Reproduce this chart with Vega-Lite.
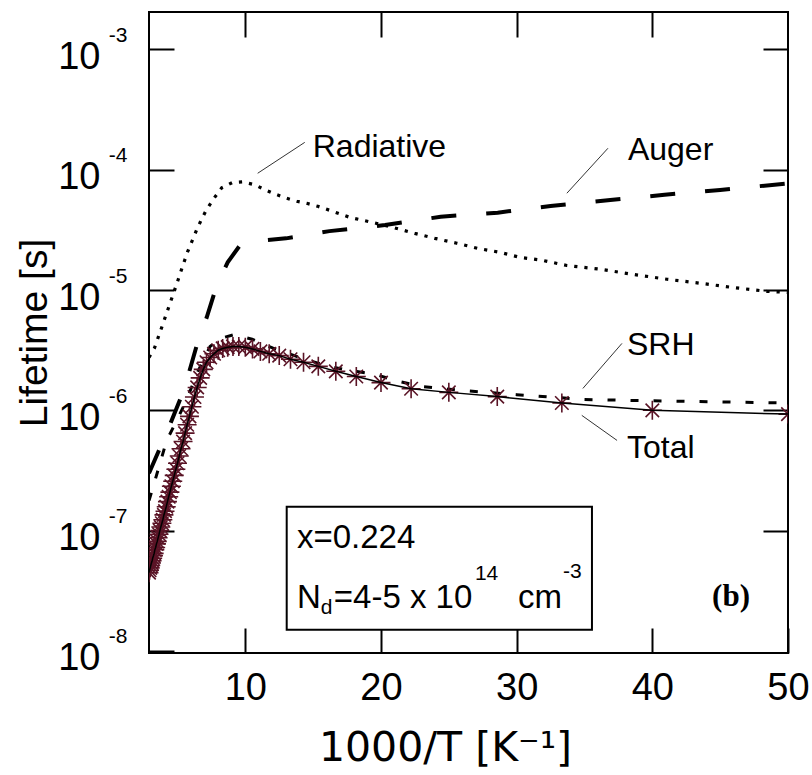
{
  "$schema": "https://vega.github.io/schema/vega-lite/v6.json",
  "width": 639,
  "height": 641,
  "autosize": {"type": "none"},
  "padding": {"left": 149, "top": 12, "right": 24, "bottom": 122},
  "background": "white",
  "config": {
    "view": {"stroke": "black", "strokeWidth": 2},
    "font": "Liberation Sans",
    "axis": {"grid": false, "domain": false, "tickColor": "black", "tickWidth": 2, "tickSize": -25, "labelColor": "black", "labelFont": "Liberation Sans", "titleFont": "Liberation Sans", "titleColor": "black", "titleFontWeight": "normal", "labelOverlap": false, "labelFlush": false}
  },
  "datasets": {
    "curves": [
      {"series": "Radiative", "x": 2.9, "y": 2.75e-6},
      {"series": "Radiative", "x": 3.31, "y": 3.31e-6},
      {"series": "Radiative", "x": 3.9, "y": 5.13e-6},
      {"series": "Radiative", "x": 4.42, "y": 7.59e-6},
      {"series": "Radiative", "x": 4.94, "y": 1.12e-5},
      {"series": "Radiative", "x": 5.38, "y": 1.58e-5},
      {"series": "Radiative", "x": 5.75, "y": 2.09e-5},
      {"series": "Radiative", "x": 6.12, "y": 2.63e-5},
      {"series": "Radiative", "x": 6.41, "y": 3.16e-5},
      {"series": "Radiative", "x": 6.78, "y": 3.89e-5},
      {"series": "Radiative", "x": 7.15, "y": 4.68e-5},
      {"series": "Radiative", "x": 7.74, "y": 5.89e-5},
      {"series": "Radiative", "x": 8.26, "y": 7.08e-5},
      {"series": "Radiative", "x": 9.07, "y": 7.85e-5},
      {"series": "Radiative", "x": 9.8, "y": 7.94e-5},
      {"series": "Radiative", "x": 10.69, "y": 7.5e-5},
      {"series": "Radiative", "x": 11.43, "y": 6.84e-5},
      {"series": "Radiative", "x": 12.16, "y": 6.31e-5},
      {"series": "Radiative", "x": 13.05, "y": 5.79e-5},
      {"series": "Radiative", "x": 13.79, "y": 5.47e-5},
      {"series": "Radiative", "x": 14.53, "y": 5.26e-5},
      {"series": "Radiative", "x": 15.34, "y": 4.97e-5},
      {"series": "Radiative", "x": 16.22, "y": 4.6e-5},
      {"series": "Radiative", "x": 17.7, "y": 4.02e-5},
      {"series": "Radiative", "x": 19.32, "y": 3.66e-5},
      {"series": "Radiative", "x": 20.87, "y": 3.32e-5},
      {"series": "Radiative", "x": 22.49, "y": 2.96e-5},
      {"series": "Radiative", "x": 23.97, "y": 2.69e-5},
      {"series": "Radiative", "x": 25.59, "y": 2.45e-5},
      {"series": "Radiative", "x": 27.14, "y": 2.22e-5},
      {"series": "Radiative", "x": 28.76, "y": 2.06e-5},
      {"series": "Radiative", "x": 30.24, "y": 1.87e-5},
      {"series": "Radiative", "x": 31.86, "y": 1.77e-5},
      {"series": "Radiative", "x": 33.7, "y": 1.6e-5},
      {"series": "Radiative", "x": 36.14, "y": 1.49e-5},
      {"series": "Radiative", "x": 38.57, "y": 1.35e-5},
      {"series": "Radiative", "x": 41.08, "y": 1.23e-5},
      {"series": "Radiative", "x": 43.51, "y": 1.14e-5},
      {"series": "Radiative", "x": 45.95, "y": 1.05e-5},
      {"series": "Radiative", "x": 48.45, "y": 9.75e-6},
      {"series": "Radiative", "x": 50, "y": 9.57e-6},
      {"series": "Auger", "x": 2.9, "y": 3.0e-7},
      {"series": "Auger", "x": 4.2, "y": 6.5e-7},
      {"series": "Auger", "x": 5.5, "y": 1.5e-6},
      {"series": "Auger", "x": 6.63, "y": 4.2e-6},
      {"series": "Auger", "x": 7.15, "y": 5.9e-6},
      {"series": "Auger", "x": 7.9, "y": 1.1e-5},
      {"series": "Auger", "x": 8.7, "y": 1.7e-5},
      {"series": "Auger", "x": 9.6, "y": 2.35e-5},
      {"series": "Auger", "x": 11.0, "y": 2.57e-5},
      {"series": "Auger", "x": 13.0, "y": 2.69e-5},
      {"series": "Auger", "x": 16.2, "y": 3.09e-5},
      {"series": "Auger", "x": 20.3, "y": 3.47e-5},
      {"series": "Auger", "x": 24.4, "y": 4.07e-5},
      {"series": "Auger", "x": 28.6, "y": 4.4e-5},
      {"series": "Auger", "x": 32.5, "y": 5.0e-5},
      {"series": "Auger", "x": 36.9, "y": 5.6e-5},
      {"series": "Auger", "x": 40.9, "y": 6.2e-5},
      {"series": "Auger", "x": 45.0, "y": 6.8e-5},
      {"series": "Auger", "x": 50.0, "y": 7.7e-5},
      {"series": "SRH", "x": 2.9, "y": 1.78e-7},
      {"series": "SRH", "x": 3.2, "y": 2.3e-7},
      {"series": "SRH", "x": 4.2, "y": 5.6e-7},
      {"series": "SRH", "x": 5.0, "y": 8.5e-7},
      {"series": "SRH", "x": 5.6, "y": 1.17e-6},
      {"series": "SRH", "x": 6.5, "y": 2.1e-6},
      {"series": "SRH", "x": 7.4, "y": 3.4e-6},
      {"series": "SRH", "x": 8.3, "y": 4.0e-6},
      {"series": "SRH", "x": 9.2, "y": 4.27e-6},
      {"series": "SRH", "x": 10.5, "y": 3.9e-6},
      {"series": "SRH", "x": 12.0, "y": 3.3e-6},
      {"series": "SRH", "x": 14.0, "y": 2.75e-6},
      {"series": "SRH", "x": 16.0, "y": 2.34e-6},
      {"series": "SRH", "x": 17.7, "y": 2.14e-6},
      {"series": "SRH", "x": 19.5, "y": 2.0e-6},
      {"series": "SRH", "x": 21.3, "y": 1.74e-6},
      {"series": "SRH", "x": 23.0, "y": 1.58e-6},
      {"series": "SRH", "x": 26.4, "y": 1.45e-6},
      {"series": "SRH", "x": 30.0, "y": 1.35e-6},
      {"series": "SRH", "x": 35.0, "y": 1.23e-6},
      {"series": "SRH", "x": 40.0, "y": 1.2e-6},
      {"series": "SRH", "x": 50.0, "y": 1.15e-6}
    ],
    "total": [
      {"x": 2.9, "y": 4.47e-8}, {"x": 2.94, "y": 4.68e-8}, {"x": 2.99, "y": 4.9e-8}, {"x": 3.03, "y": 5.13e-8},
      {"x": 3.08, "y": 5.37e-8}, {"x": 3.13, "y": 5.62e-8}, {"x": 3.17, "y": 5.89e-8}, {"x": 3.23, "y": 6.17e-8},
      {"x": 3.28, "y": 6.46e-8}, {"x": 3.33, "y": 6.92e-8}, {"x": 3.39, "y": 7.24e-8}, {"x": 3.45, "y": 7.76e-8},
      {"x": 3.51, "y": 8.13e-8}, {"x": 3.57, "y": 8.71e-8}, {"x": 3.64, "y": 9.33e-8}, {"x": 3.7, "y": 1.0e-7},
      {"x": 3.77, "y": 1.07e-7}, {"x": 3.85, "y": 1.15e-7}, {"x": 3.92, "y": 1.23e-7}, {"x": 4.0, "y": 1.35e-7},
      {"x": 4.08, "y": 1.45e-7}, {"x": 4.17, "y": 1.58e-7}, {"x": 4.26, "y": 1.74e-7}, {"x": 4.35, "y": 1.91e-7},
      {"x": 4.44, "y": 2.09e-7}, {"x": 4.55, "y": 2.34e-7}, {"x": 4.65, "y": 2.57e-7}, {"x": 4.76, "y": 2.88e-7},
      {"x": 4.88, "y": 3.24e-7}, {"x": 5.0, "y": 3.63e-7}, {"x": 5.13, "y": 4.17e-7}, {"x": 5.26, "y": 4.79e-7},
      {"x": 5.41, "y": 5.5e-7}, {"x": 5.56, "y": 6.46e-7}, {"x": 5.71, "y": 7.59e-7}, {"x": 5.88, "y": 8.91e-7},
      {"x": 6.06, "y": 1.07e-6}, {"x": 6.25, "y": 1.29e-6}, {"x": 6.45, "y": 1.55e-6}, {"x": 6.67, "y": 1.86e-6},
      {"x": 6.9, "y": 2.19e-6}, {"x": 7.14, "y": 2.51e-6}, {"x": 7.41, "y": 2.75e-6}, {"x": 7.69, "y": 2.95e-6},
      {"x": 8.0, "y": 3.16e-6}, {"x": 8.33, "y": 3.27e-6}, {"x": 8.7, "y": 3.35e-6}, {"x": 9.09, "y": 3.39e-6},
      {"x": 9.52, "y": 3.39e-6}, {"x": 10.0, "y": 3.35e-6}, {"x": 10.53, "y": 3.24e-6}, {"x": 11.11, "y": 3.09e-6},
      {"x": 11.76, "y": 2.95e-6}, {"x": 12.5, "y": 2.85e-6}, {"x": 13.33, "y": 2.66e-6}, {"x": 14.29, "y": 2.51e-6},
      {"x": 15.38, "y": 2.32e-6}, {"x": 16.67, "y": 2.11e-6}, {"x": 18.18, "y": 1.91e-6}, {"x": 20.0, "y": 1.7e-6},
      {"x": 22.22, "y": 1.51e-6}, {"x": 25.0, "y": 1.41e-6}, {"x": 28.57, "y": 1.3e-6}, {"x": 33.33, "y": 1.15e-6},
      {"x": 40.0, "y": 1.0e-6}, {"x": 50.0, "y": 9.3e-7}
    ],
    "labels": [
      {"text": "Radiative", "x": 14.97, "y": 1.27e-4},
      {"text": "Auger", "x": 38.2, "y": 1.2e-4},
      {"text": "SRH", "x": 38.13, "y": 2.86e-6},
      {"text": "Total", "x": 38.13, "y": 3.98e-7}
    ],
    "leaders": [
      {"x": 10.91, "y": 9.35e-5, "x2": 14.38, "y2": 1.69e-4},
      {"x": 33.7, "y": 6.38e-5, "x2": 36.73, "y2": 1.51e-4},
      {"x": 34.88, "y": 1.52e-6, "x2": 37.76, "y2": 3.6e-6},
      {"x": 34.8, "y": 9.08e-7, "x2": 37.4, "y2": 5.62e-7}
    ],
    "box": [{"x": 13.05, "x2": 35.55, "y": 1.58e-7, "y2": 1.5e-8}],
    "boxText": [
      {"text": "x=0.224", "x": 13.8, "y": 7.1e-8},
      {"text": "N", "x": 13.8, "y": 2.29e-8},
      {"text": "=4-5 x 10", "x": 16.52, "y": 2.29e-8},
      {"text": "cm", "x": 30.09, "y": 2.29e-8}
    ],
    "boxSmall": [
      {"text": "d", "x": 15.56, "y": 2.04e-8},
      {"text": "14", "x": 26.92, "y": 3.85e-8},
      {"text": "-3", "x": 33.41, "y": 4.0e-8}
    ],
    "panel": [{"text": "(b)", "x": 45.8, "y": 2.34e-8}]
  },
  "layer": [
    {
      "data": {"name": "curves"},
      "transform": [{"filter": "datum.series === 'Radiative'"}],
      "mark": {"type": "line", "stroke": "black", "strokeWidth": 3.2, "strokeDash": [3.2, 7], "clip": true},
      "encoding": {
        "x": {"field": "x", "type": "quantitative", "scale": {"domain": [2.9, 50], "nice": false, "zero": false},
          "axis": {"orient": "bottom", "values": [10, 20, 30, 40, 50], "labelFontSize": 38, "labelPadding": 41, "title": "1000/T [K⁻¹]", "titleFont": "DejaVu Sans", "titleFontSize": 41, "titleX": 296, "titleY": 107, "titleAlign": "center", "titleBaseline": "alphabetic", "titleAnchor": "middle"}},
        "y": {"field": "y", "type": "quantitative", "scale": {"type": "log", "domain": [9.6e-9, 2.05e-3], "nice": false},
          "axis": {"orient": "left", "values": [1e-3, 1e-4, 1e-5, 1e-6, 1e-7, 1e-8], "labelExpr": "'10'", "labelFontSize": 38, "labelPadding": 74, "labelOffset": 8, "title": "Lifetime [s]", "titleFontSize": 39, "titlePadding": 3}}
      }
    },
    {
      "data": {"name": "curves"},
      "transform": [{"filter": "datum.series === 'Auger'"}],
      "mark": {"type": "line", "stroke": "black", "strokeWidth": 4, "strokeDash": [25, 30], "clip": true},
      "encoding": {
        "x": {"field": "x", "type": "quantitative", "scale": {"domain": [2.9, 50], "nice": false, "zero": false},
          "axis": {"orient": "top", "values": [10, 20, 30, 40], "labels": false, "title": null}},
        "y": {"field": "y", "type": "quantitative", "scale": {"type": "log", "domain": [9.6e-9, 2.05e-3], "nice": false},
          "axis": {"orient": "right", "values": [1e-3, 1e-4, 1e-5, 1e-6, 1e-7], "labels": false, "title": null}}
      }
    },
    {
      "data": {"name": "curves"},
      "transform": [{"filter": "datum.series === 'SRH'"}],
      "mark": {"type": "line", "stroke": "black", "strokeWidth": 3, "strokeDash": [8, 15], "clip": true},
      "encoding": {
        "x": {"field": "x", "type": "quantitative", "scale": {"domain": [2.9, 50], "nice": false, "zero": false}, "axis": null},
        "y": {"field": "y", "type": "quantitative", "scale": {"type": "log", "domain": [9.6e-9, 2.05e-3], "nice": false},
          "axis": {"orient": "left", "values": [1e-3, 1e-4, 1e-5, 1e-6, 1e-7, 1e-8], "labelExpr": "'-' + format(-log(datum.value)/LN10, '.0f')", "ticks": false, "labelFontSize": 21, "labelPadding": 22, "labelOffset": -14, "title": null}}
      }
    },
    {
      "data": {"name": "total"},
      "mark": {"type": "point", "shape": "M-1,0L1,0M0,-1L0,1M-0.71,-0.71L0.71,0.71M-0.71,0.71L0.71,-0.71", "filled": false, "stroke": "#5a1426", "strokeWidth": 1.6, "size": 361, "opacity": 1, "clip": true},
      "encoding": {
        "x": {"field": "x", "type": "quantitative", "scale": {"domain": [2.9, 50], "nice": false, "zero": false}, "axis": null},
        "y": {"field": "y", "type": "quantitative", "scale": {"type": "log", "domain": [9.6e-9, 2.05e-3], "nice": false}, "axis": null}
      }
    },
    {
      "data": {"name": "total"},
      "mark": {"type": "line", "stroke": "black", "strokeWidth": 1.5, "clip": true},
      "encoding": {
        "x": {"field": "x", "type": "quantitative", "scale": {"domain": [2.9, 50], "nice": false, "zero": false}, "axis": null},
        "y": {"field": "y", "type": "quantitative", "scale": {"type": "log", "domain": [9.6e-9, 2.05e-3], "nice": false}, "axis": null}
      }
    },
    {
      "data": {"name": "box"},
      "mark": {"type": "rect", "fill": "white", "stroke": "black", "strokeWidth": 2},
      "encoding": {
        "x": {"field": "x", "type": "quantitative", "scale": {"domain": [2.9, 50], "nice": false, "zero": false}, "axis": null},
        "x2": {"field": "x2"},
        "y": {"field": "y", "type": "quantitative", "scale": {"type": "log", "domain": [9.6e-9, 2.05e-3], "nice": false}, "axis": null},
        "y2": {"field": "y2"}
      }
    },
    {
      "data": {"name": "boxText"},
      "mark": {"type": "text", "align": "left", "baseline": "alphabetic", "font": "Liberation Sans", "fontSize": 33, "color": "black"},
      "encoding": {
        "x": {"field": "x", "type": "quantitative", "scale": {"domain": [2.9, 50], "nice": false, "zero": false}, "axis": null},
        "y": {"field": "y", "type": "quantitative", "scale": {"type": "log", "domain": [9.6e-9, 2.05e-3], "nice": false}, "axis": null},
        "text": {"field": "text"}
      }
    },
    {
      "data": {"name": "boxSmall"},
      "mark": {"type": "text", "align": "left", "baseline": "alphabetic", "font": "Liberation Sans", "fontSize": 21, "color": "black"},
      "encoding": {
        "x": {"field": "x", "type": "quantitative", "scale": {"domain": [2.9, 50], "nice": false, "zero": false}, "axis": null},
        "y": {"field": "y", "type": "quantitative", "scale": {"type": "log", "domain": [9.6e-9, 2.05e-3], "nice": false}, "axis": null},
        "text": {"field": "text"}
      }
    },
    {
      "data": {"name": "labels"},
      "mark": {"type": "text", "align": "left", "baseline": "alphabetic", "font": "Liberation Sans", "fontSize": 32, "color": "black"},
      "encoding": {
        "x": {"field": "x", "type": "quantitative", "scale": {"domain": [2.9, 50], "nice": false, "zero": false}, "axis": null},
        "y": {"field": "y", "type": "quantitative", "scale": {"type": "log", "domain": [9.6e-9, 2.05e-3], "nice": false}, "axis": null},
        "text": {"field": "text"}
      }
    },
    {
      "data": {"name": "leaders"},
      "mark": {"type": "rule", "stroke": "#333333", "strokeWidth": 1},
      "encoding": {
        "x": {"field": "x", "type": "quantitative", "scale": {"domain": [2.9, 50], "nice": false, "zero": false}, "axis": null},
        "x2": {"field": "x2"},
        "y": {"field": "y", "type": "quantitative", "scale": {"type": "log", "domain": [9.6e-9, 2.05e-3], "nice": false}, "axis": null},
        "y2": {"field": "y2"}
      }
    },
    {
      "data": {"name": "panel"},
      "mark": {"type": "text", "align": "center", "baseline": "alphabetic", "font": "Liberation Serif", "fontWeight": "bold", "fontSize": 31, "color": "black"},
      "encoding": {
        "x": {"field": "x", "type": "quantitative", "scale": {"domain": [2.9, 50], "nice": false, "zero": false}, "axis": null},
        "y": {"field": "y", "type": "quantitative", "scale": {"type": "log", "domain": [9.6e-9, 2.05e-3], "nice": false}, "axis": null},
        "text": {"field": "text"}
      }
    }
  ],
  "resolve": {"axis": {"x": "independent", "y": "independent"}}
}
